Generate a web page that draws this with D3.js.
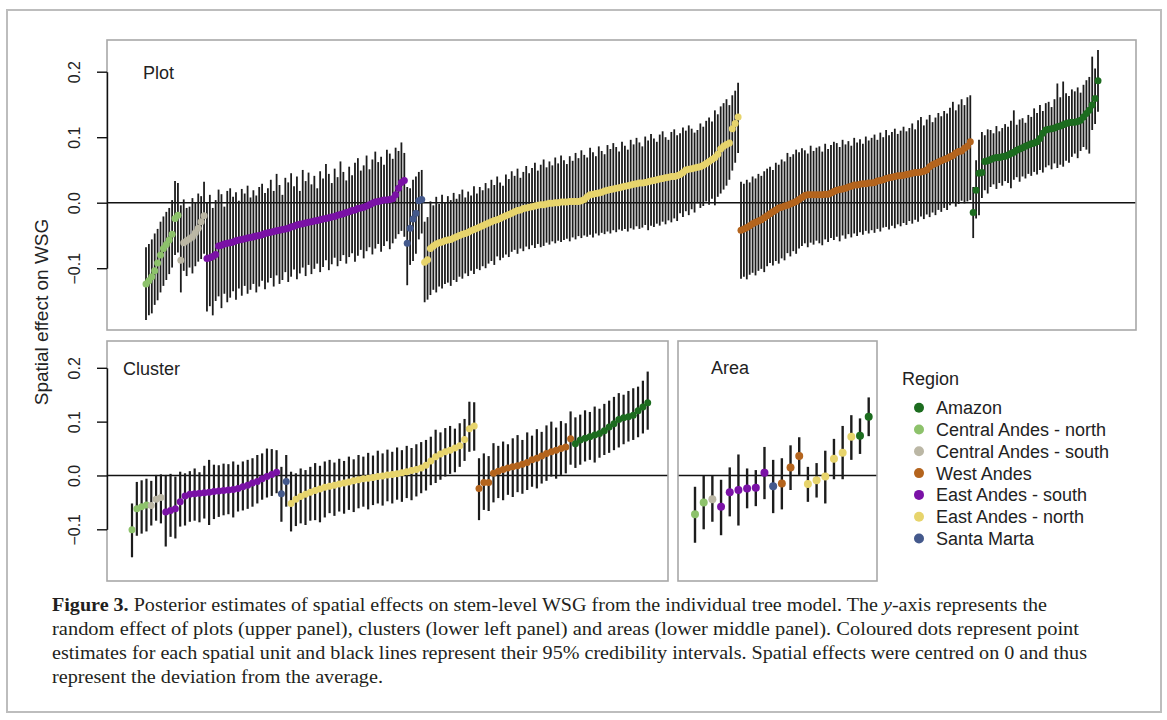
<!DOCTYPE html>
<html>
<head>
<meta charset="utf-8">
<script src="https://cdn.jsdelivr.net/npm/d3@7"></script>
<style>
  body { margin: 0; background: #fff; }
  svg { display: block; }
  text { font-family: "Liberation Sans", Arial, sans-serif; }
  text.cap { font-family: "Liberation Serif", "Times New Roman", serif; font-size: 18px; }
</style>
</head>
<body>
<svg id="chart" width="1167" height="720"></svg>
<script>
// regions, legend order
const regionCodes = ["AMZ", "CAN", "CAS", "WA", "EAS", "EAN", "SM"];
const regionNames = ["Amazon", "Central Andes - north", "Central Andes - south", "West Andes",
                     "East Andes - south", "East Andes - north", "Santa Marta"];
const regionColors = ["#1c6c1f", "#8dc26b", "#bbb7a5", "#b4641d", "#7a11a6", "#e7d46c", "#44598c"];
const yTicks = [-0.1, 0.0, 0.1, 0.2];

// ---- Plot level (upper panel) ----
const plotCanEst = [-0.124,-0.119,-0.113,-0.104,-0.092,-0.080,-0.070,-0.064,-0.057,-0.048,-0.024,-0.019];
const plotCanLo  = [-0.179,-0.172,-0.169,-0.156,-0.149,-0.137,-0.127,-0.118,-0.109,-0.099,-0.080,-0.076];
const plotCanHi  = [-0.068,-0.063,-0.056,-0.047,-0.040,-0.029,-0.021,-0.014,-0.008,0.004,0.033,0.030];

const plotCasEst = [-0.088,-0.061,-0.058,-0.055,-0.052,-0.046,-0.039,-0.029,-0.020];
const plotCasLo  = [-0.137,-0.104,-0.112,-0.099,-0.108,-0.097,-0.090,-0.086,-0.078];
const plotCasHi  = [-0.004,0.005,-0.008,-0.006,0.007,0.001,0.014,0.010,0.032];

const plotEasEst = [-0.085,-0.084,-0.082,-0.079,-0.066,-0.065,-0.063,-0.062,-0.061,-0.060,
  -0.058,-0.057,-0.056,-0.055,-0.054,-0.053,-0.052,-0.051,-0.050,-0.049,
  -0.047,-0.046,-0.045,-0.044,-0.043,-0.042,-0.041,-0.040,-0.039,-0.037,
  -0.036,-0.034,-0.033,-0.032,-0.031,-0.030,-0.029,-0.028,-0.027,-0.026,
  -0.025,-0.024,-0.023,-0.022,-0.021,-0.019,-0.018,-0.017,-0.015,-0.014,
  -0.012,-0.011,-0.009,-0.008,-0.007,-0.005,-0.003,-0.001,0.001,0.002,
  0.003,0.004,0.004,0.005,0.006,0.012,0.022,0.031,0.034];
const plotEasLo = [-0.166,-0.158,-0.172,-0.150,-0.143,-0.161,-0.139,-0.152,-0.145,-0.135,
  -0.148,-0.131,-0.142,-0.127,-0.139,-0.133,-0.124,-0.137,-0.128,-0.119,
  -0.132,-0.122,-0.115,-0.128,-0.111,-0.124,-0.118,-0.106,-0.121,-0.113,
  -0.102,-0.117,-0.108,-0.099,-0.112,-0.095,-0.109,-0.101,-0.093,-0.106,
  -0.098,-0.088,-0.103,-0.094,-0.084,-0.097,-0.089,-0.080,-0.093,-0.083,
  -0.077,-0.090,-0.081,-0.072,-0.085,-0.074,-0.068,-0.079,-0.070,-0.063,
  -0.075,-0.066,-0.059,-0.071,-0.062,-0.055,-0.048,-0.043,-0.052];
const plotEasHi = [0.001,0.012,-0.008,0.004,0.020,0.013,-0.006,0.018,0.022,0.009,
  0.016,0.003,0.021,0.014,0.026,0.008,0.019,0.011,0.024,0.029,
  0.015,0.022,0.035,0.018,0.044,0.027,0.012,0.038,0.031,0.045,
  0.025,0.040,0.018,0.050,0.033,0.046,0.028,0.041,0.022,0.048,
  0.037,0.059,0.044,0.030,0.052,0.039,0.063,0.047,0.034,0.055,
  0.042,0.061,0.068,0.049,0.057,0.072,0.051,0.066,0.078,0.062,
  0.070,0.058,0.081,0.075,0.067,0.084,0.079,0.092,0.076];

const plotSmEst = [-0.062,-0.039,-0.025,-0.016,0.003,0.005];
const plotSmLo  = [-0.126,-0.095,-0.089,-0.078,-0.056,-0.047];
const plotSmHi  = [0.024,0.022,0.035,0.040,0.047,0.050];

const plotEanEst = [-0.091,-0.087,-0.070,-0.066,-0.063,-0.061,-0.060,-0.058,-0.057,-0.056,
  -0.054,-0.052,-0.050,-0.048,-0.047,-0.045,-0.043,-0.041,-0.039,-0.037,
  -0.035,-0.033,-0.031,-0.029,-0.027,-0.026,-0.024,-0.022,-0.020,-0.018,
  -0.016,-0.014,-0.012,-0.011,-0.009,-0.008,-0.007,-0.006,-0.005,-0.004,
  -0.003,-0.003,-0.002,-0.001,-0.001,0.000,0.000,0.001,0.001,0.001,
  0.002,0.002,0.002,0.002,0.003,0.005,0.009,0.012,0.013,0.014,
  0.015,0.016,0.018,0.019,0.020,0.021,0.022,0.023,0.024,0.025,
  0.026,0.027,0.028,0.029,0.030,0.030,0.031,0.032,0.033,0.034,
  0.035,0.036,0.037,0.038,0.039,0.040,0.040,0.041,0.043,0.046,
  0.050,0.051,0.052,0.053,0.054,0.055,0.057,0.060,0.063,0.066,
  0.069,0.074,0.082,0.086,0.089,0.091,0.113,0.121,0.131];
const plotEanLo = [-0.152,-0.148,-0.141,-0.133,-0.137,-0.128,-0.131,-0.124,-0.122,-0.127,
  -0.118,-0.121,-0.113,-0.116,-0.108,-0.112,-0.104,-0.109,-0.101,-0.103,
  -0.097,-0.100,-0.093,-0.089,-0.095,-0.082,-0.088,-0.084,-0.079,-0.083,
  -0.075,-0.072,-0.078,-0.070,-0.074,-0.067,-0.071,-0.065,-0.069,-0.063,
  -0.068,-0.066,-0.061,-0.064,-0.059,-0.062,-0.058,-0.060,-0.057,-0.055,
  -0.059,-0.053,-0.056,-0.051,-0.054,-0.050,-0.052,-0.049,-0.053,-0.047,
  -0.050,-0.046,-0.048,-0.044,-0.047,-0.042,-0.045,-0.041,-0.043,-0.040,
  -0.044,-0.039,-0.041,-0.036,-0.040,-0.038,-0.034,-0.042,-0.035,-0.037,
  -0.032,-0.035,-0.029,-0.033,-0.027,-0.030,-0.024,-0.028,-0.016,-0.022,
  -0.013,-0.019,-0.010,-0.015,-0.001,-0.008,-0.005,0.002,-0.003,0.006,
  -0.004,0.009,0.014,0.020,0.026,0.035,0.049,0.061,0.076];
const plotEanHi = [-0.029,-0.022,0.002,-0.004,0.009,-0.002,0.012,0.001,0.010,0.004,
  0.015,0.006,0.013,0.020,0.008,0.017,0.011,0.025,0.014,0.024,
  0.019,0.030,0.022,0.035,0.027,0.040,0.031,0.026,0.043,0.036,
  0.048,0.041,0.052,0.038,0.047,0.056,0.045,0.053,0.061,0.049,
  0.058,0.066,0.054,0.063,0.057,0.069,0.060,0.072,0.065,0.059,
  0.071,0.064,0.076,0.068,0.080,0.073,0.069,0.084,0.077,0.071,
  0.086,0.079,0.074,0.088,0.082,0.091,0.085,0.078,0.093,0.087,
  0.081,0.096,0.089,0.099,0.092,0.086,0.101,0.095,0.105,0.098,
  0.093,0.104,0.109,0.100,0.096,0.108,0.112,0.103,0.106,0.115,
  0.110,0.118,0.113,0.107,0.111,0.121,0.116,0.125,0.130,0.124,
  0.141,0.135,0.147,0.152,0.158,0.149,0.164,0.171,0.183];

const plotWaEst = [-0.042,-0.040,-0.038,-0.035,-0.032,-0.030,-0.028,-0.026,-0.023,-0.020,
  -0.017,-0.014,-0.011,-0.008,-0.007,-0.005,-0.004,-0.002,0.000,0.002,
  0.005,0.008,0.011,0.012,0.012,0.012,0.012,0.012,0.012,0.013,
  0.013,0.015,0.017,0.019,0.020,0.021,0.022,0.024,0.025,0.027,
  0.027,0.028,0.029,0.029,0.030,0.030,0.031,0.033,0.034,0.035,
  0.037,0.038,0.039,0.040,0.041,0.041,0.042,0.043,0.044,0.045,
  0.046,0.046,0.047,0.048,0.050,0.055,0.058,0.060,0.062,0.064,
  0.066,0.068,0.070,0.072,0.076,0.078,0.079,0.083,0.086,0.093];
const plotWaLo = [-0.116,-0.113,-0.117,-0.110,-0.107,-0.111,-0.104,-0.101,-0.106,-0.097,
  -0.092,-0.096,-0.089,-0.093,-0.085,-0.088,-0.077,-0.082,-0.074,-0.078,
  -0.070,-0.066,-0.062,-0.068,-0.061,-0.064,-0.058,-0.062,-0.065,-0.056,
  -0.060,-0.054,-0.057,-0.052,-0.059,-0.050,-0.055,-0.048,-0.053,-0.047,
  -0.051,-0.045,-0.049,-0.043,-0.047,-0.042,-0.046,-0.040,-0.044,-0.038,
  -0.037,-0.041,-0.035,-0.039,-0.033,-0.036,-0.031,-0.034,-0.028,-0.032,
  -0.026,-0.029,-0.021,-0.025,-0.018,-0.022,-0.015,-0.019,-0.011,-0.014,
  -0.008,-0.011,-0.004,0.000,-0.006,-0.002,0.003,-0.001,0.002,0.004];
const plotWaHi = [0.032,0.029,0.035,0.031,0.040,0.037,0.044,0.041,0.048,0.052,
  0.055,0.050,0.061,0.058,0.066,0.063,0.076,0.070,0.074,0.081,
  0.077,0.083,0.080,0.075,0.087,0.079,0.084,0.086,0.078,0.090,
  0.082,0.088,0.093,0.091,0.085,0.096,0.089,0.094,0.087,0.099,
  0.092,0.097,0.090,0.101,0.095,0.099,0.104,0.096,0.107,0.100,
  0.111,0.103,0.108,0.113,0.105,0.110,0.116,0.109,0.114,0.121,
  0.112,0.126,0.131,0.118,0.127,0.134,0.123,0.130,0.137,0.132,
  0.140,0.136,0.145,0.154,0.141,0.150,0.158,0.149,0.161,0.164];

const plotAmzEst = [-0.015,0.019,0.045,0.046,0.063,0.064,0.066,0.068,0.069,0.069,
  0.070,0.071,0.073,0.075,0.077,0.080,0.082,0.084,0.086,0.088,
  0.090,0.091,0.093,0.098,0.106,0.111,0.112,0.113,0.114,0.116,
  0.117,0.119,0.121,0.122,0.123,0.123,0.124,0.126,0.131,0.136,
  0.141,0.149,0.159,0.186];
const plotAmzLo = [-0.054,-0.024,-0.019,0.007,0.019,0.014,0.024,0.028,0.021,0.030,
  0.026,0.033,0.030,0.022,0.035,0.039,0.032,0.040,0.037,0.044,
  0.041,0.047,0.043,0.050,0.046,0.054,0.057,0.051,0.060,0.053,
  0.058,0.055,0.064,0.061,0.070,0.075,0.068,0.079,0.085,0.081,
  0.075,0.111,0.120,0.139];
const plotAmzHi = [0.024,0.065,0.096,0.108,0.103,0.112,0.111,0.106,0.117,0.109,
  0.114,0.120,0.116,0.125,0.141,0.119,0.127,0.129,0.122,0.134,
  0.131,0.144,0.137,0.149,0.140,0.152,0.154,0.146,0.158,0.182,
  0.161,0.185,0.167,0.163,0.173,0.170,0.176,0.168,0.180,0.187,
  0.192,0.223,0.205,0.233];

// ---- Cluster level (lower left panel) ----
const clusCanEst = [-0.101,-0.062,-0.058,-0.055];
const clusCanLo  = [-0.152,-0.112,-0.108,-0.104];
const clusCanHi  = [-0.052,-0.012,-0.009,-0.006];

const clusCasEst = [-0.056,-0.044,-0.041];
const clusCasLo  = [-0.093,-0.084,-0.089];
const clusCasHi  = [-0.010,0.001,0.002];

const clusEasEst = [-0.068,-0.065,-0.062,-0.049,-0.038,-0.035,-0.034,-0.033,-0.032,-0.031,
  -0.030,-0.029,-0.028,-0.027,-0.026,-0.024,-0.021,-0.018,-0.014,-0.011,
  -0.006,-0.002,0.002,0.006];
const clusEasLo = [-0.132,-0.114,-0.117,-0.095,-0.093,-0.086,-0.084,-0.087,-0.080,-0.092,
  -0.081,-0.077,-0.074,-0.072,-0.078,-0.067,-0.065,-0.062,-0.058,-0.052,
  -0.045,-0.041,-0.038,-0.033];
const clusEasHi = [0.001,0.003,-0.002,0.007,0.004,0.008,0.013,0.006,0.018,0.029,
  0.020,0.019,0.022,0.021,0.026,0.020,0.026,0.029,0.032,0.038,
  0.041,0.050,0.049,0.047];

const clusSmEst = [-0.034,-0.011];
const clusSmLo  = [-0.086,-0.058];
const clusSmHi  = [0.016,0.038];

const clusEanEst = [-0.052,-0.044,-0.039,-0.035,-0.031,-0.028,-0.025,-0.022,-0.020,-0.018,
  -0.016,-0.014,-0.012,-0.010,-0.008,-0.006,-0.005,-0.004,-0.002,-0.001,
  0.001,0.002,0.003,0.005,0.007,0.009,0.011,0.014,0.019,0.027,
  0.035,0.040,0.044,0.047,0.051,0.055,0.067,0.087,0.092];
const clusEanLo = [-0.104,-0.094,-0.089,-0.092,-0.084,-0.083,-0.087,-0.078,-0.070,-0.075,
  -0.067,-0.071,-0.064,-0.068,-0.061,-0.058,-0.063,-0.055,-0.052,-0.056,
  -0.048,-0.052,-0.045,-0.049,-0.042,-0.046,-0.039,-0.033,-0.028,-0.018,
  -0.014,-0.008,-0.002,0.003,0.006,0.016,0.027,0.044,0.046];
const clusEanHi = [0.007,0.004,0.013,0.010,0.016,0.023,0.018,0.026,0.029,0.024,
  0.031,0.027,0.035,0.030,0.038,0.035,0.042,0.037,0.046,0.041,
  0.048,0.044,0.052,0.047,0.055,0.051,0.058,0.062,0.066,0.072,
  0.085,0.080,0.088,0.092,0.087,0.097,0.105,0.137,0.136];

const clusWaEst = [-0.024,-0.013,-0.013,0.004,0.008,0.011,0.014,0.016,0.018,0.021,
  0.024,0.029,0.032,0.036,0.041,0.044,0.047,0.050,0.053,0.068];
const clusWaLo = [-0.083,-0.064,-0.066,-0.050,-0.042,-0.046,-0.036,-0.040,-0.031,-0.034,
  -0.027,-0.021,-0.024,-0.015,-0.010,-0.002,-0.006,0.001,0.004,0.020];
const clusWaHi = [0.032,0.041,0.036,0.060,0.055,0.063,0.058,0.069,0.075,0.066,
  0.080,0.074,0.086,0.081,0.093,0.100,0.089,0.101,0.097,0.119];

const clusAmzEst = [0.059,0.066,0.069,0.072,0.075,0.078,0.083,0.090,0.096,0.104,
  0.107,0.109,0.112,0.120,0.127,0.135];
const clusAmzLo = [0.014,0.020,0.026,0.029,0.024,0.033,0.038,0.042,0.047,0.052,
  0.058,0.063,0.066,0.071,0.078,0.085];
const clusAmzHi = [0.108,0.113,0.121,0.118,0.128,0.124,0.133,0.139,0.146,0.153,
  0.150,0.157,0.162,0.165,0.176,0.193];

// ---- Area level (lower middle panel) ----
const areaRegion = ["CAN","CAN","CAS","EAS","EAS","EAS","EAS","EAS","EAS","SM","WA","WA","WA",
                    "EAN","EAN","EAN","EAN","EAN","EAN","AMZ","AMZ"];
const areaEst = [-0.072,-0.050,-0.044,-0.058,-0.031,-0.027,-0.024,-0.023,0.005,-0.020,-0.015,
                 0.015,0.036,-0.016,-0.009,-0.002,0.031,0.042,0.072,0.074,0.109];
const areaLo  = [-0.125,-0.100,-0.086,-0.111,-0.076,-0.093,-0.061,-0.057,-0.044,-0.070,-0.063,
                 -0.027,0.001,-0.049,-0.041,-0.052,-0.007,-0.007,0.029,0.040,0.073];
const areaHi  = [-0.021,-0.001,-0.001,-0.008,0.015,0.039,0.013,0.010,0.053,0.029,0.032,
                 0.056,0.071,0.016,0.023,0.046,0.068,0.092,0.112,0.106,0.145];

const colorOf = d3.scaleOrdinal().domain(regionCodes).range(regionColors);

// flatten groups (in plotting order) into rows
function rowsOf(groups) {
  const out = [];
  groups.forEach(([code, est, lo, hi]) => {
    est.forEach((e, i) => out.push({ region: code, est: e, lo: lo[i], hi: hi[i] }));
  });
  return out;
}

const plotRows = rowsOf([
  ["CAN", plotCanEst, plotCanLo, plotCanHi],
  ["CAS", plotCasEst, plotCasLo, plotCasHi],
  ["EAS", plotEasEst, plotEasLo, plotEasHi],
  ["SM",  plotSmEst,  plotSmLo,  plotSmHi],
  ["EAN", plotEanEst, plotEanLo, plotEanHi],
  ["WA",  plotWaEst,  plotWaLo,  plotWaHi],
  ["AMZ", plotAmzEst, plotAmzLo, plotAmzHi]
]);
const clusRows = rowsOf([
  ["CAN", clusCanEst, clusCanLo, clusCanHi],
  ["CAS", clusCasEst, clusCasLo, clusCasHi],
  ["EAS", clusEasEst, clusEasLo, clusEasHi],
  ["SM",  clusSmEst,  clusSmLo,  clusSmHi],
  ["EAN", clusEanEst, clusEanLo, clusEanHi],
  ["WA",  clusWaEst,  clusWaLo,  clusWaHi],
  ["AMZ", clusAmzEst, clusAmzLo, clusAmzHi]
]);
const areaRows = areaEst.map((e, i) => ({ region: areaRegion[i], est: e, lo: areaLo[i], hi: areaHi[i] }));

const svg = d3.select("#chart");

// outer frame
svg.append("rect")
  .attr("x", 7).attr("y", 10).attr("width", 1154).attr("height", 702)
  .attr("fill", "none").attr("stroke", "#bdbdbd").attr("stroke-width", 2);

const yTop = d3.scaleLinear().domain([-0.1, 0.2]).range([268.2, 71.7]);
const yLow = d3.scaleLinear().domain([-0.1, 0.2]).range([529.3, 367.8]);

function drawPanel(p) {
  const x = d3.scaleLinear().domain([0, p.rows.length - 1]).range(p.xr);
  const y = p.y;
  const g = svg.append("g");

  g.append("line")
    .attr("x1", p.box[0]).attr("x2", p.box[2])
    .attr("y1", y(0)).attr("y2", y(0))
    .attr("stroke", "#111").attr("stroke-width", 1.6);

  g.selectAll("line.ci")
    .data(p.rows)
    .join("line")
    .attr("class", "ci")
    .attr("x1", (d, i) => x(i)).attr("x2", (d, i) => x(i))
    .attr("y1", d => y(d.lo)).attr("y2", d => y(d.hi))
    .attr("stroke", "#1c1c1c").attr("stroke-width", p.bw);

  g.selectAll("circle.pt")
    .data(p.rows)
    .join("circle")
    .attr("class", "pt")
    .attr("cx", (d, i) => x(i)).attr("cy", d => y(d.est))
    .attr("r", p.r)
    .attr("fill", d => colorOf(d.region));

  g.append("rect")
    .attr("x", p.box[0]).attr("y", p.box[1])
    .attr("width", p.box[2] - p.box[0]).attr("height", p.box[3] - p.box[1])
    .attr("fill", "none").attr("stroke", "#a8a8a8").attr("stroke-width", 1.6);

  if (p.axis) {
    const ax = g.append("g")
      .attr("transform", `translate(${p.box[0]},0)`)
      .call(d3.axisLeft(y).tickValues(yTicks).tickFormat(d3.format(".1f"))
              .tickSize(10).tickSizeOuter(0));
    ax.select(".domain").attr("stroke", "#111").attr("stroke-width", 1.4);
    ax.selectAll(".tick line").attr("stroke", "#111").attr("stroke-width", 1.4);
    ax.selectAll(".tick text")
      .attr("transform", "rotate(-90)")
      .attr("x", 0).attr("y", -27).attr("dy", 0)
      .attr("text-anchor", "middle")
      .attr("fill", "#222")
      .style("font-size", "16px")
      .style("font-family", '"Liberation Sans", Arial, sans-serif');
  }

  g.append("text")
    .attr("x", p.label[1]).attr("y", p.label[2])
    .attr("fill", "#222").style("font-size", "18px")
    .text(p.label[0]);
}

drawPanel({ rows: plotRows, box: [107, 40, 1136, 330], xr: [146, 1098], y: yTop,
            axis: true, r: 3.5, bw: 1.8, label: ["Plot", 143, 79] });
drawPanel({ rows: clusRows, box: [107, 341, 668, 581], xr: [132, 647.7], y: yLow,
            axis: true, r: 3.5, bw: 2.2, label: ["Cluster", 123, 375] });
drawPanel({ rows: areaRows, box: [678, 341, 877, 581], xr: [695, 868.7], y: yLow,
            axis: false, r: 4, bw: 2.4, label: ["Area", 711, 374] });

// y axis title
svg.append("text")
  .attr("transform", "translate(48,312) rotate(-90)")
  .attr("text-anchor", "middle")
  .attr("fill", "#222").style("font-size", "19px")
  .text("Spatial effect on WSG");

// legend
const legend = svg.append("g");
legend.append("text")
  .attr("x", 902).attr("y", 385)
  .attr("fill", "#222").style("font-size", "18px")
  .text("Region");
const items = legend.selectAll("g.item")
  .data(regionNames)
  .join("g")
  .attr("class", "item")
  .attr("transform", (d, i) => `translate(919,${407.7 + i * 21.8})`);
items.append("circle").attr("r", 5).attr("fill", (d, i) => regionColors[i]);
items.append("text")
  .attr("x", 17).attr("y", 6.5)
  .attr("fill", "#222").style("font-size", "18px")
  .text(d => d);

// caption
const cap = svg.append("g").attr("fill", "#231f20");

const l1 = cap.append("text").attr("class", "cap").attr("x", 52).attr("y", 611)
  .attr("textLength", 995).attr("lengthAdjust", "spacingAndGlyphs");
l1.append("tspan").style("font-weight", "bold").text("Figure 3.");
l1.append("tspan").text(" Posterior estimates of spatial effects on stem-level WSG from the individual tree model. The ");
l1.append("tspan").style("font-style", "italic").text("y");
l1.append("tspan").text("-axis represents the");

cap.append("text").attr("class", "cap").attr("x", 52).attr("y", 635)
  .attr("textLength", 1027).attr("lengthAdjust", "spacingAndGlyphs")
  .text("random effect of plots (upper panel), clusters (lower left panel) and areas (lower middle panel). Coloured dots represent point");
cap.append("text").attr("class", "cap").attr("x", 52).attr("y", 659)
  .attr("textLength", 1035).attr("lengthAdjust", "spacingAndGlyphs")
  .text("estimates for each spatial unit and black lines represent their 95% credibility intervals. Spatial effects were centred on 0 and thus");
cap.append("text").attr("class", "cap").attr("x", 52).attr("y", 683)
  .attr("textLength", 331).attr("lengthAdjust", "spacingAndGlyphs")
  .text("represent the deviation from the average.");
</script>
</body>
</html>
